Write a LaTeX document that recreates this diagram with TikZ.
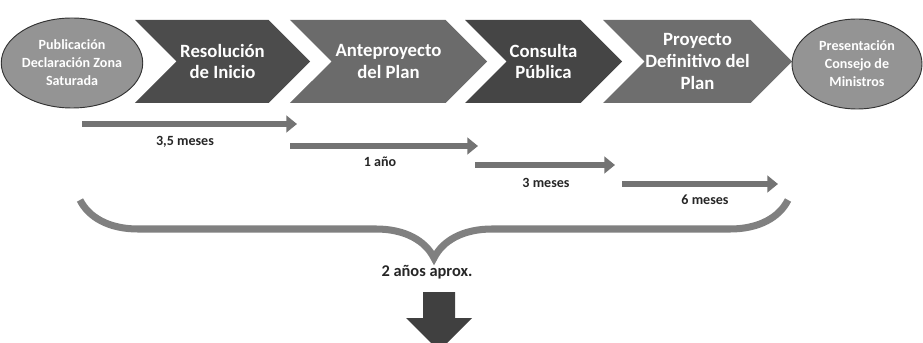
\documentclass[tikz,border=0pt]{standalone}
\usepackage{fontspec}
\setmainfont{Carlito}
\usetikzlibrary{arrows.meta,positioning,shapes.symbols,shapes.geometric,decorations.pathreplacing}

\tikzset{
  stage/.style={signal, signal from=west, signal to=east, signal pointer angle=90,
    minimum height=2.49cm, inner sep=0pt, text=white, align=center,
    font=\bfseries\fontsize{16}{18.7}\selectfont},
  milestone/.style={ellipse, draw=black!80, line width=0.8pt, fill=black!42,
    minimum width=3.9cm, minimum height=2.7cm, inner sep=0pt, text=white, align=center,
    font=\bfseries\fontsize{12}{15.3}\selectfont},
  span/.style={draw=black!55, line width=4.3pt, -{Triangle[length=9pt,width=14pt]}},
  spanlabel/.style={font=\bfseries\fontsize{12}{14}\selectfont, text=black!85},
}

\begin{document}
\begin{tikzpicture}[x=0.03cm,y=-0.03cm]
  \useasboundingbox (0,0) rectangle (923,343);
  \clip (0,0) rectangle (923,343);

  % stages
  \node[stage, fill=black!70, minimum width=5.25cm] (resol) at (222.5,61.5) {Resolución\\de Inicio};
  \node[stage, fill=black!58, minimum width=5.91cm] (antep) at (388.5,61.5) {Anteproyecto\\del Plan};
  \node[stage, fill=black!73, minimum width=4.71cm] (consul) at (543.5,61.5) {Consulta\\Pública};
  \node[stage, fill=black!57, minimum width=5.67cm] (defin) at (697.5,61.5) {Proyecto\\Definitivo del\\Plan};

  % start and end
  \node[milestone] (publi) at (72,63) {Publicación\\Declaración Zona\\Saturada};
  \node[milestone] (consejo) at (857,64) {Presentación\\Consejo de\\Ministros};

  % durations
  \coordinate (d1s) at (82,124);  \coordinate (d1e) at (297,124);
  \coordinate (d2s) at (290,146); \coordinate (d2e) at (478,146);
  \coordinate (d3s) at (475,165); \coordinate (d3e) at (615,165);
  \coordinate (d4s) at (622,184); \coordinate (d4e) at (778,184);
  \draw[span] (d1s) -- (d1e);
  \draw[span] (d2s) -- (d2e);
  \draw[span] (d3s) -- (d3e);
  \draw[span] (d4s) -- (d4e);
  \node[spanlabel] (l1) at (185,142) {3,5 meses};
  \node[spanlabel] (l2) at (380,162) {1 año};
  \node[spanlabel] (l3) at (546,183) {3 meses};
  \node[spanlabel] (l4) at (705,200) {6 meses};

  % total
  \coordinate (bl) at (80,200);
  \coordinate (br) at (788,200);
  \draw[black!50, line width=6pt, decorate,
    decoration={brace, mirror, amplitude=1.74cm}] (bl) -- (br);
  \node[spanlabel, font=\bfseries\fontsize{14}{16}\selectfont] (total) at (427,272) {2 años aprox.};

  % next step
  \fill[black!75] (423,292) -- (455,292) -- (455,318) -- (472,318) -- (439,351)
    -- (406,318) -- (423,318) -- cycle;
\end{tikzpicture}
\end{document}
